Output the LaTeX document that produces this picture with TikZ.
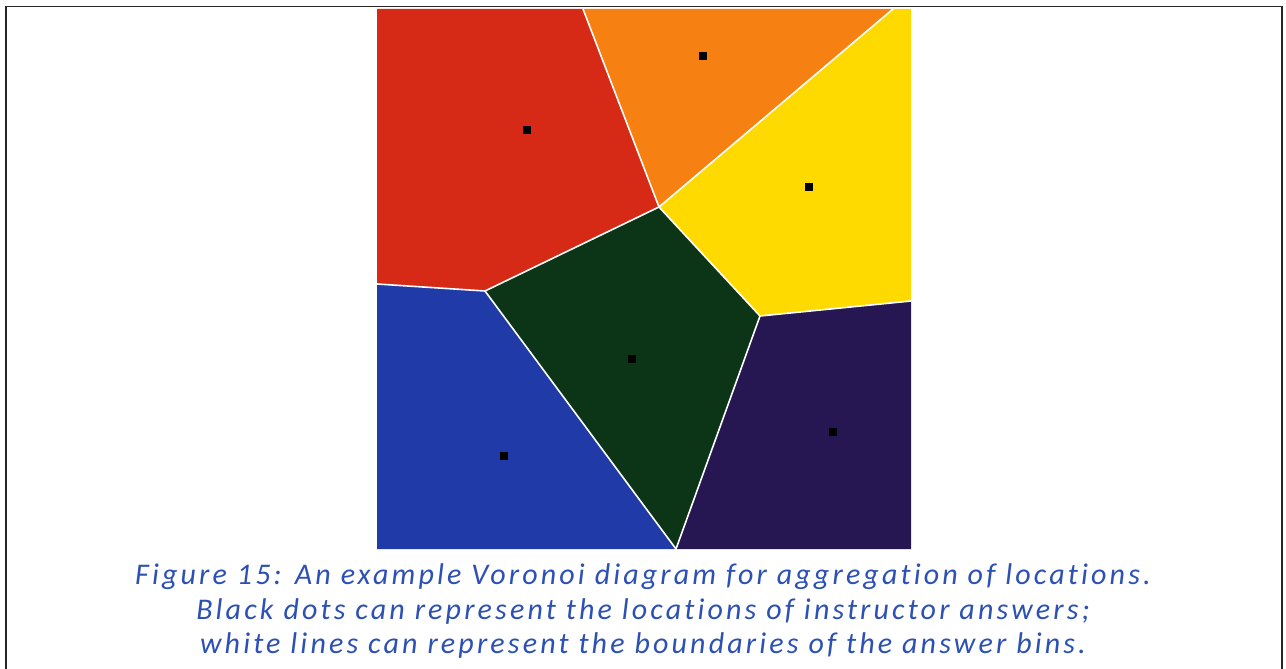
\documentclass[tikz,border=0pt]{standalone}
\usepackage{fontspec}
\setmainfont{Carlito}[Ligatures=NoCommon]
\definecolor{vred}{RGB}{214,42,22}
\definecolor{vorange}{RGB}{246,128,18}
\definecolor{vyellow}{RGB}{255,218,0}
\definecolor{vgreen}{RGB}{12,52,22}
\definecolor{vblue}{RGB}{32,58,168}
\definecolor{vpurple}{RGB}{38,22,82}
\definecolor{capblue}{RGB}{44,80,180}
\begin{document}
\begin{tikzpicture}[x=1pt,y=-1pt,
  cell/.style={draw=white,line width=1.6pt,line join=round},
  site/.style={fill=black,minimum size=8pt,inner sep=0pt,draw=none},
  captxt/.style={text=capblue,font=\fontsize{30}{34}\selectfont\itshape\addfontfeatures{LetterSpace=10.5},align=center}]
\useasboundingbox (0,0) rectangle (1286,669);
\fill[white] (0,0) rectangle (1286,669);
\draw[line width=1.6pt,black!85] (6,680) -- (6,6.5) -- (1282,6.5) -- (1282,680);
% vertices
\coordinate (TL) at (377,9);
\coordinate (TR) at (911,9);
\coordinate (BL) at (377,549);
\coordinate (BR) at (911,549);
\coordinate (A) at (583,9);
\coordinate (B) at (893,9);
\coordinate (V1) at (659,207);
\coordinate (V2) at (485,291);
\coordinate (V3) at (760,316);
\coordinate (L) at (377,284);
\coordinate (R) at (911,301);
\coordinate (D) at (676,549);
% cells
\fill[vred] (TL) -- (A) -- (V1) -- (V2) -- (L) -- cycle;
\fill[vorange] (A) -- (B) -- (V1) -- cycle;
\fill[vyellow] (B) -- (TR) -- (R) -- (V3) -- (V1) -- cycle;
\fill[vgreen] (V1) -- (V3) -- (D) -- (V2) -- cycle;
\fill[vblue] (L) -- (V2) -- (D) -- (BL) -- cycle;
\fill[vpurple] (V3) -- (R) -- (BR) -- (D) -- cycle;
% boundaries
\draw[cell] (A) -- (V1) -- (B);
\draw[cell] (V1) -- (V2) -- (L);
\draw[cell] (V1) -- (V3) -- (R);
\draw[cell] (V2) -- (D) -- (V3);
% sites
\node[site] (s1) at (527,130) {};
\node[site] (s2) at (703,56) {};
\node[site] (s3) at (809,187) {};
\node[site] (s4) at (632,359) {};
\node[site] (s5) at (504,456) {};
\node[site] (s6) at (833,432) {};
% caption
\node[captxt] (c1) at (643,577) {Figure 15: An example Voronoi diagram for aggregation of locations.};
\node[captxt] (c2) at (643,611) {Black dots can represent the locations of instructor answers;};
\node[captxt] (c3) at (643,645) {white lines can represent the boundaries of the answer bins.};
\end{tikzpicture}
\end{document}
